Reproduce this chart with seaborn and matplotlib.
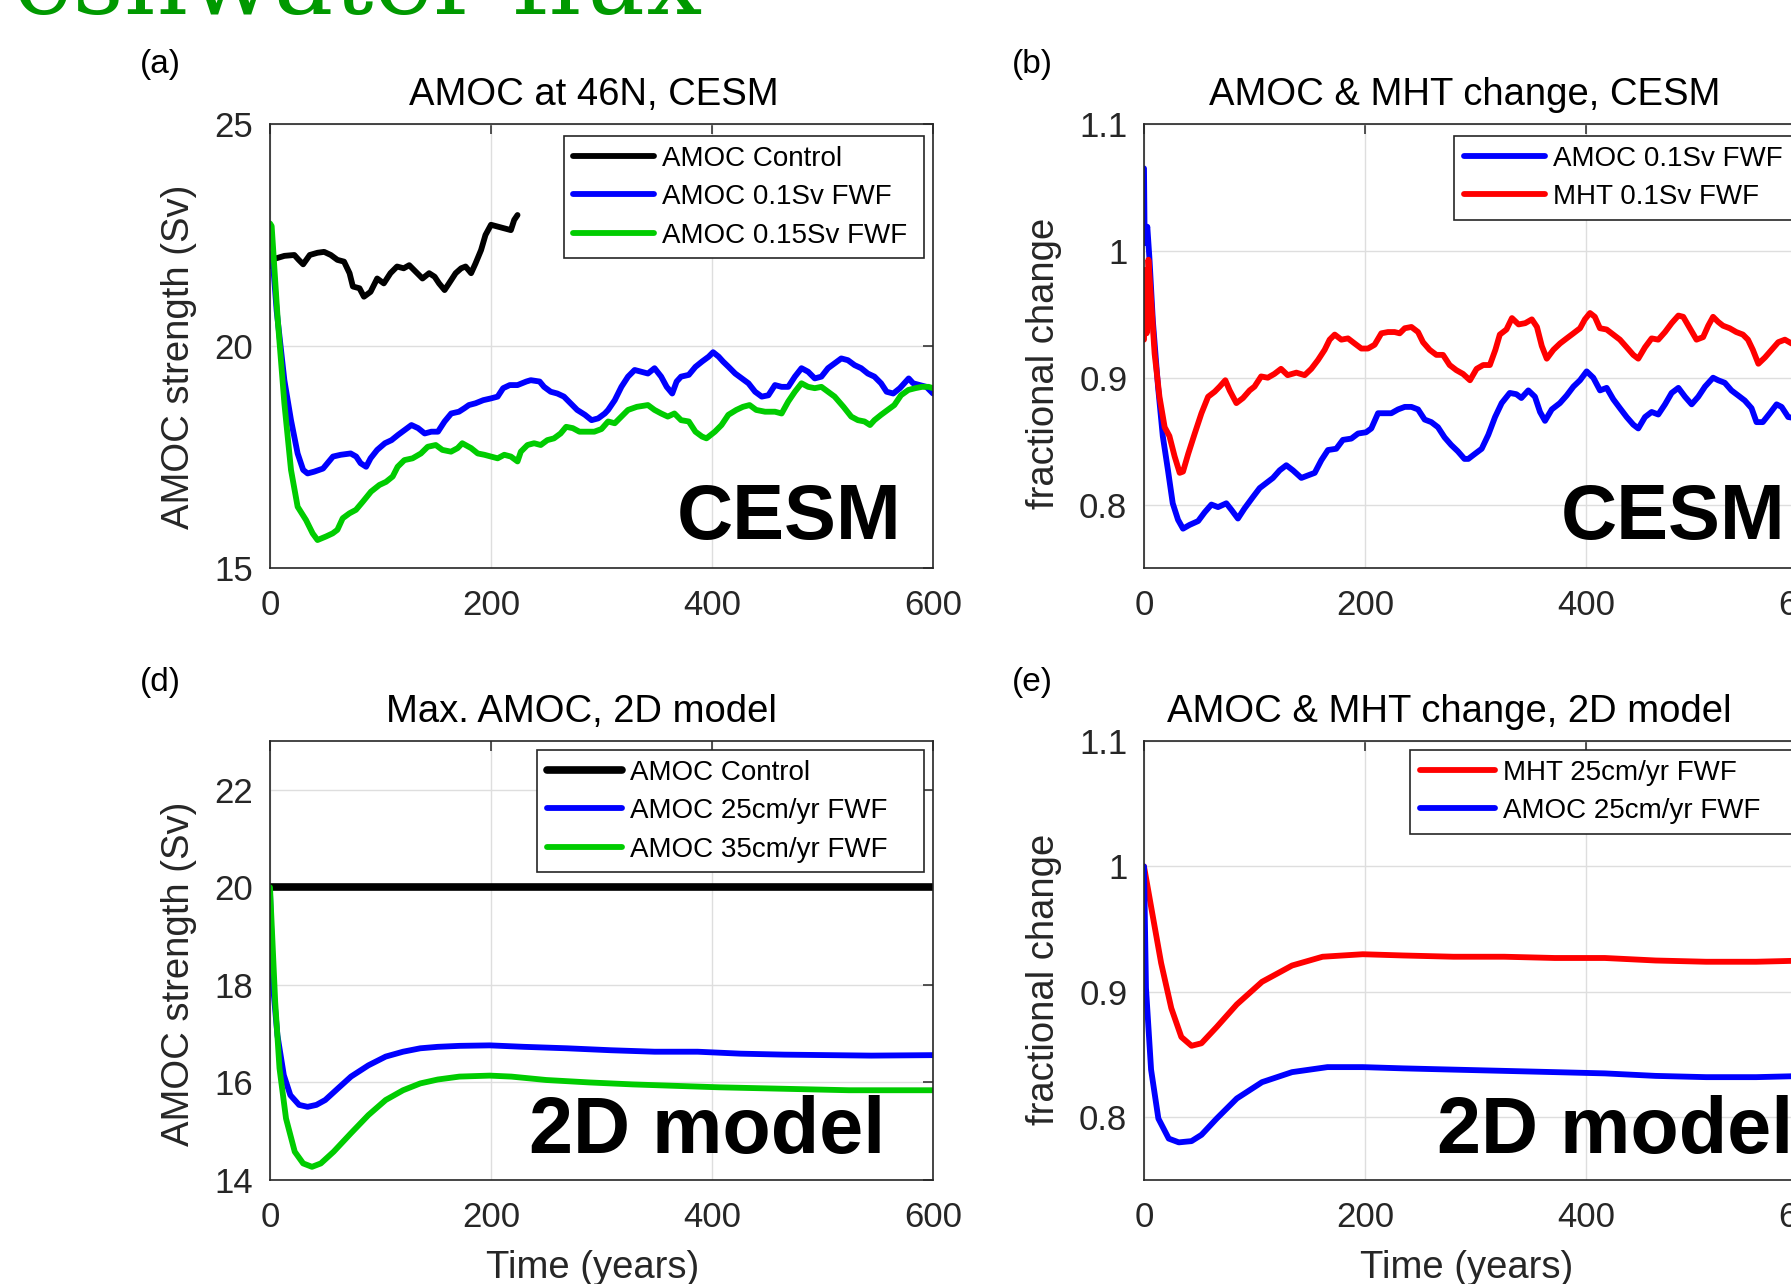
import numpy as np
import pandas as pd
import matplotlib
matplotlib.use("Agg")
import matplotlib.pyplot as plt
import seaborn as sns

# ---------------- data ----------------
# Panel (a): AMOC at 46N, CESM  (year, Sv)
A_control = [(2, 21.95), (5, 21.97), (13, 22.03), (22, 22.05), (26, 21.94), (30, 21.84), (36, 22.05),
             (43, 22.10), (49, 22.12), (55, 22.05), (61, 21.94), (67, 21.90), (72, 21.64), (75, 21.34),
             (81, 21.30), (85, 21.11), (91, 21.22), (97, 21.52), (103, 21.41), (109, 21.64), (115, 21.79),
             (121, 21.75), (126, 21.82), (132, 21.67), (138, 21.52), (144, 21.64), (149, 21.56), (153, 21.41),
             (158, 21.26), (162, 21.41), (168, 21.64), (173, 21.75), (177, 21.79), (182, 21.64), (186, 21.86),
             (191, 22.16), (195, 22.50), (200, 22.73), (206, 22.69), (212, 22.65), (218, 22.61), (221, 22.84),
             (224, 22.95)]
A_fwf01 = [(0, 21.8), (2, 22.1), (6, 20.8), (13, 19.23), (19, 18.33), (25, 17.58), (30, 17.21), (34, 17.13),
           (40, 17.17), (48, 17.24), (52, 17.36), (57, 17.51), (64, 17.55), (73, 17.58), (78, 17.51), (82, 17.36),
           (87, 17.28), (91, 17.47), (97, 17.66), (104, 17.81), (110, 17.88), (116, 18.00), (122, 18.11),
           (128, 18.22), (134, 18.15), (140, 18.03), (146, 18.07), (152, 18.07), (158, 18.30), (164, 18.48),
           (171, 18.52), (176, 18.60), (180, 18.67), (186, 18.71), (193, 18.78), (200, 18.82), (206, 18.86),
           (211, 19.05), (217, 19.12), (224, 19.12), (232, 19.20), (236, 19.23), (244, 19.20), (248, 19.08),
           (254, 18.97), (260, 18.93), (266, 18.86), (272, 18.71), (278, 18.56), (285, 18.45), (291, 18.33),
           (297, 18.37), (303, 18.48), (306, 18.56), (312, 18.78), (318, 19.08), (324, 19.31), (330, 19.46),
           (336, 19.42), (342, 19.38), (348, 19.50), (354, 19.31), (359, 19.08), (364, 18.93), (368, 19.20),
           (372, 19.31), (379, 19.35), (385, 19.53), (391, 19.65), (397, 19.76), (401, 19.86), (406, 19.76),
           (410, 19.65), (415, 19.53), (421, 19.38), (427, 19.27), (433, 19.16), (439, 18.97), (445, 18.86),
           (451, 18.89), (457, 19.12), (463, 19.08), (469, 19.08), (475, 19.31), (481, 19.50), (487, 19.42),
           (493, 19.27), (499, 19.31), (505, 19.50), (511, 19.61), (517, 19.72), (523, 19.68), (529, 19.57),
           (535, 19.50), (541, 19.38), (547, 19.31), (553, 19.16), (558, 18.97), (564, 18.93), (570, 19.05),
           (578, 19.27), (582, 19.16), (588, 19.12), (594, 19.08), (600, 18.93)]
A_fwf015 = [(0, 22.76), (1.5, 22.7), (7, 20.59), (13, 18.71), (19, 17.21), (25, 16.38), (32.6, 16.08),
            (38.6, 15.78), (43, 15.63), (50.7, 15.71), (56.7, 15.78), (61, 15.86), (65.8, 16.12), (71.8, 16.23),
            (77.8, 16.31), (83.9, 16.49), (91.4, 16.72), (99, 16.87), (105, 16.94), (111, 17.06), (115.5, 17.28),
            (121.6, 17.43), (129, 17.47), (136.6, 17.58), (142.7, 17.73), (150, 17.77), (156, 17.66),
            (163.8, 17.62), (169.8, 17.70), (174, 17.81), (182, 17.70), (188, 17.58), (194, 17.55), (200, 17.51),
            (206, 17.47), (212, 17.55), (218, 17.51), (224, 17.40), (227, 17.62), (233, 17.77), (239, 17.81),
            (245, 17.77), (251, 17.88), (257, 17.92), (263, 18.03), (268, 18.18), (274, 18.15), (280, 18.07),
            (286, 18.07), (293.5, 18.07), (300, 18.13), (306, 18.30), (312, 18.26), (318, 18.41), (324, 18.56),
            (332, 18.63), (342, 18.67), (348, 18.56), (354, 18.48), (360, 18.41), (366, 18.48), (372, 18.33),
            (379, 18.30), (385, 18.07), (391, 17.96), (395, 17.92), (402.6, 18.07), (408.6, 18.22),
            (414.8, 18.45), (422, 18.56), (428, 18.63), (434, 18.67), (440, 18.56), (448, 18.52), (457, 18.52),
            (463, 18.48), (469, 18.75), (475, 18.97), (481, 19.16), (487, 19.08), (493, 19.05), (499, 19.08),
            (505, 18.97), (511, 18.86), (519, 18.63), (526, 18.41), (532, 18.33), (538, 18.30), (543, 18.22),
            (547, 18.33), (553, 18.45), (559, 18.56), (565, 18.67), (571, 18.89), (577.7, 19.01), (584, 19.05),
            (590, 19.08), (596, 19.08), (600, 19.05)]

# Panel (b): AMOC & MHT change, CESM (year, fraction)
B_amoc = [(0, 1.065), (0.6, 1.006), (3, 1.019), (5, 0.993), (8, 0.945), (12.7, 0.893), (17, 0.854),
          (21.7, 0.827), (26, 0.801), (30.8, 0.788), (35.3, 0.781), (41.3, 0.784), (49, 0.787), (55, 0.794),
          (61, 0.800), (67, 0.798), (74.5, 0.801), (79, 0.796), (85, 0.789), (91, 0.797), (98.6, 0.806),
          (104.7, 0.813), (110.7, 0.817), (116.7, 0.821), (122.8, 0.827), (128.8, 0.831), (134.8, 0.827),
          (142.4, 0.821), (148.4, 0.823), (154.5, 0.825), (160.5, 0.835), (166.5, 0.843), (174, 0.844),
          (180, 0.851), (187.6, 0.852), (193.7, 0.856), (201, 0.857), (205.7, 0.860), (211.8, 0.872),
          (217.8, 0.872), (223.8, 0.872), (229.9, 0.875), (236, 0.877), (242, 0.877), (248, 0.875),
          (254, 0.867), (260, 0.865), (266, 0.861), (272, 0.853), (278, 0.847), (284, 0.842), (290, 0.836),
          (293.5, 0.836), (299.5, 0.840), (305.6, 0.844), (311.6, 0.855), (317.7, 0.869), (323.7, 0.880),
          (331, 0.888), (337, 0.887), (341.5, 0.884), (347.8, 0.890), (353.8, 0.885), (358.4, 0.873),
          (362.9, 0.866), (369, 0.875), (376.4, 0.880), (382.5, 0.886), (388.6, 0.893), (394.6, 0.898),
          (400.6, 0.905), (406.6, 0.900), (412.7, 0.890), (418.7, 0.892), (424.7, 0.883), (430.7, 0.876),
          (436.8, 0.869), (442.8, 0.863), (447.3, 0.860), (453.4, 0.869), (459.4, 0.873), (465.4, 0.871),
          (471.5, 0.879), (477.5, 0.888), (483.6, 0.892), (489.6, 0.885), (495.6, 0.879), (501.6, 0.885),
          (507.7, 0.893), (515, 0.900), (519.6, 0.898), (525.6, 0.896), (531.6, 0.890), (537.7, 0.886),
          (543.7, 0.882), (549.8, 0.876), (554.3, 0.865), (560, 0.865), (566.4, 0.872), (572.5, 0.879),
          (577, 0.877), (583, 0.869), (590, 0.868), (600, 0.872)]
B_mht = [(0, 0.930), (1, 0.985), (2.4, 0.935), (4, 0.993), (6, 0.967), (9.6, 0.919), (14, 0.885),
         (18.7, 0.861), (23, 0.854), (27.7, 0.838), (32.3, 0.825), (35.3, 0.826), (40, 0.840), (45.9, 0.856),
         (52, 0.872), (58, 0.885), (64, 0.889), (68.5, 0.893), (73.6, 0.898), (77.5, 0.890), (83.6, 0.880),
         (89.6, 0.884), (95.6, 0.890), (100, 0.893), (106, 0.901), (112, 0.900), (118, 0.903), (124, 0.907),
         (130, 0.902), (137.9, 0.904), (145.4, 0.902), (151.4, 0.907), (157.5, 0.914), (163.5, 0.922),
         (168, 0.930), (172.6, 0.934), (178.6, 0.930), (184.6, 0.931), (190.6, 0.927), (196.7, 0.923),
         (202.7, 0.923), (208.7, 0.926), (214.8, 0.935), (220.8, 0.936), (226.8, 0.936), (231.4, 0.935),
         (236, 0.939), (242, 0.940), (248, 0.936), (252.5, 0.928), (258.5, 0.922), (264.6, 0.918),
         (270.6, 0.918), (276.6, 0.910), (282.6, 0.906), (288.7, 0.903), (295, 0.898), (301, 0.907),
         (307, 0.910), (313, 0.910), (318, 0.922), (322, 0.934), (328, 0.938), (333, 0.947), (339, 0.942),
         (345, 0.943), (351, 0.946), (355.6, 0.940), (360, 0.925), (364.5, 0.915), (370.5, 0.922),
         (376.5, 0.927), (382.5, 0.931), (388.6, 0.935), (394.6, 0.939), (399, 0.946), (403.6, 0.951),
         (408, 0.948), (412.6, 0.939), (418.7, 0.938), (424.7, 0.934), (430.7, 0.930), (436.8, 0.924),
         (442.8, 0.918), (447.3, 0.915), (453.4, 0.924), (459.4, 0.931), (465.4, 0.930), (471.5, 0.936),
         (477.5, 0.943), (483.6, 0.949), (488, 0.948), (494, 0.939), (500, 0.930), (506, 0.932),
         (510.6, 0.941), (515, 0.948), (519.6, 0.944), (524, 0.941), (530, 0.939), (536, 0.936), (542, 0.934),
         (546.6, 0.930), (551, 0.922), (556, 0.911), (562, 0.916), (568, 0.922), (574, 0.928), (580, 0.930),
         (586, 0.927), (593, 0.926), (600, 0.929)]

# Panel (d): Max. AMOC, 2D model (year, Sv)
D_control = [(0, 20.0), (600, 20.0)]
D_fwf25 = [(0, 19.9), (2.7, 18.0), (6.7, 16.97), (12.5, 16.15), (18.4, 15.74), (26.3, 15.54), (34, 15.50),
           (42, 15.54), (50, 15.64), (61.6, 15.88), (73.3, 16.12), (89, 16.35), (104.7, 16.53), (120.4, 16.63),
           (136, 16.70), (151.8, 16.73), (171.4, 16.75), (198.8, 16.76), (230, 16.73), (269, 16.70),
           (308.6, 16.66), (348, 16.63), (387, 16.63), (426, 16.59), (465.5, 16.57), (504.7, 16.56),
           (544, 16.55), (600, 16.56)]
D_fwf35 = [(0, 20.0), (2, 19.0), (4.7, 17.65), (8.6, 16.29), (14.5, 15.26), (22.4, 14.58), (30, 14.34),
           (38, 14.27), (46, 14.34), (57.6, 14.58), (73.3, 14.96), (89, 15.33), (104.7, 15.64), (120.4, 15.84),
           (136, 15.98), (151.8, 16.06), (171.4, 16.12), (198.8, 16.14), (218.4, 16.12), (250, 16.05),
           (289, 16.00), (328, 15.96), (367, 15.93), (406.7, 15.90), (446, 15.88), (485, 15.86), (524, 15.84),
           (563.5, 15.84), (600, 15.84)]

# Panel (e): AMOC & MHT change, 2D model (year, fraction)
E_mht = [(0, 1.0), (6.4, 0.968), (15.5, 0.923), (24.7, 0.887), (33.8, 0.864), (43, 0.857), (52, 0.859),
         (65.8, 0.872), (84, 0.890), (106.8, 0.908), (134, 0.921), (161.6, 0.928), (198, 0.930),
         (234.7, 0.929), (280, 0.928), (326, 0.928), (371.7, 0.927), (417, 0.927), (463, 0.925),
         (508.7, 0.924), (554, 0.924), (600, 0.925)]
E_amoc = [(0, 1.0), (1.8, 0.903), (6.4, 0.838), (13, 0.799), (22.4, 0.783), (31.5, 0.780), (43, 0.781),
          (52, 0.786), (65.8, 0.799), (84, 0.815), (106.8, 0.828), (134, 0.836), (166, 0.840), (198, 0.840),
          (234.7, 0.839), (280, 0.838), (326, 0.837), (371.7, 0.836), (417, 0.835), (463, 0.833),
          (508.7, 0.832), (554, 0.832), (600, 0.833)]

XTICKS = [0, 200, 400, 600]
A_YTICKS = [15, 20, 25]
D_YTICKS = [14, 16, 18, 20, 22]
FRAC_YTICKS = [0.8, 0.9, 1.0, 1.1]
FRAC_YLABELS = ["0.8", "0.9", "1", "1.1"]

# ---------------- style ----------------
sns.set_theme(style="whitegrid")
plt.rcParams["font.family"] = ["Liberation Sans", "DejaVu Sans"]

W, H = 1791, 1284
fig = plt.figure(figsize=(W / 100, H / 100), dpi=100)
fig.patch.set_facecolor("white")

TXT = "#262626"
BLUE, RED, GREEN, BLACK = "#0000ff", "#ff0000", "#00cc00", "#000000"


def add_ax(left, top, w, h):
    return fig.add_axes([left / W, 1 - (top + h) / H, w / W, h / H])


def frame(pairs):
    return pd.DataFrame(pairs, columns=["year", "value"])


def style(ax):
    ax.set_facecolor("white")
    ax.grid(True, color="#dedede", linewidth=1.0)
    ax.set_axisbelow(True)
    for s in ax.spines.values():
        s.set_visible(True)
        s.set_color(TXT)
        s.set_linewidth(1.2)
    ax.tick_params(direction="in", top=True, right=True, length=7, width=1.1,
                   colors=TXT, labelsize=25)
    ax.tick_params(axis="y", pad=12)
    ax.tick_params(axis="x", pad=15)
    ax.set_xlim(0, 600)
    ax.set_xticks(XTICKS)


def draw(ax, pairs, color, label, lw=4.2):
    d = frame(pairs)
    sns.lineplot(data=d, x="year", y="value", ax=ax, color=color, linewidth=lw,
                 label=label, sort=False, estimator=None)


def legend(ax, x0, top, hl=2.9):
    leg = ax.legend(loc="upper left", bbox_to_anchor=(x0, 0, 0.986 - x0, top), mode="expand",
                    fontsize=20, frameon=True, fancybox=False,
                    edgecolor=TXT, framealpha=1, handlelength=hl, handletextpad=0.3,
                    labelspacing=0.45, borderpad=0.35, borderaxespad=0.0)
    leg.get_frame().set_linewidth(1.2)
    for t in leg.get_texts():
        t.set_color("black")


def ylab(ax, text, x, y):
    ax.set_ylabel(text, fontsize=27.5, color=TXT, va="center")
    ax.yaxis.set_label_coords(x, y)


axA = add_ax(270, 124, 663, 444)
axB = add_ax(1144, 124, 663, 444)
axD = add_ax(270, 741, 663, 439)
axE = add_ax(1144, 741, 663, 439)

# (a)
draw(axA, A_control, BLACK, "AMOC Control")
draw(axA, A_fwf01, BLUE, "AMOC 0.1Sv FWF")
draw(axA, A_fwf015, GREEN, "AMOC 0.15Sv FWF")
style(axA)
axA.set_ylim(15, 25)
axA.set_yticks(A_YTICKS)
axA.set_xlabel("")
ylab(axA, "AMOC strength (Sv)", -0.137, 0.475)
legend(axA, 0.443, 0.973)

# (b)
draw(axB, B_amoc, BLUE, "AMOC 0.1Sv FWF")
draw(axB, B_mht, RED, "MHT 0.1Sv FWF")
style(axB)
axB.set_ylim(0.75, 1.1)
axB.set_yticks(FRAC_YTICKS, FRAC_YLABELS)
axB.set_xlabel("")
ylab(axB, "fractional change", -0.151, 0.46)
legend(axB, 0.468, 0.973)

# (d)
draw(axD, D_control, BLACK, "AMOC Control", lw=5.5)
draw(axD, D_fwf25, BLUE, "AMOC 25cm/yr FWF")
draw(axD, D_fwf35, GREEN, "AMOC 35cm/yr FWF")
style(axD)
axD.set_ylim(14, 23)
axD.set_yticks(D_YTICKS)
ylab(axD, "AMOC strength (Sv)", -0.137, 0.469)
axD.set_xlabel("Time (years)", fontsize=27.5, color=TXT, va="center")
axD.xaxis.set_label_coords(0.487, -0.2)
legend(axD, 0.403, 0.9795, hl=2.7)

# (e)
draw(axE, E_mht, RED, "MHT 25cm/yr FWF")
draw(axE, E_amoc, BLUE, "AMOC 25cm/yr FWF")
style(axE)
axE.set_ylim(0.75, 1.1)
axE.set_yticks(FRAC_YTICKS, FRAC_YLABELS)
ylab(axE, "fractional change", -0.151, 0.458)
axE.set_xlabel("Time (years)", fontsize=27.5, color=TXT, va="center")
axE.xaxis.set_label_coords(0.486, -0.2)
legend(axE, 0.401, 0.9795, hl=2.7)

# titles
tkw = dict(ha="center", va="center", fontsize=27.5, color="black")
axA.text(0.489, 1.066, "AMOC at 46N, CESM", transform=axA.transAxes, **tkw)
axB.text(0.484, 1.066, "AMOC & MHT change, CESM", transform=axB.transAxes, **tkw)
axD.text(0.470, 1.067, "Max. AMOC, 2D model", transform=axD.transAxes, **tkw)
axE.text(0.460, 1.067, "AMOC & MHT change, 2D model", transform=axE.transAxes, **tkw)

# big model labels
big = dict(fontsize=56, fontweight="bold", color="black", ha="right", va="baseline")
axA.text(0.953, 0.065, "CESM", transform=axA.transAxes, **big)
axB.text(0.968, 0.065, "CESM", transform=axB.transAxes, **big)
big2 = dict(big)
big2["fontsize"] = 57
axD.text(0.928, 0.0615, "2D model", transform=axD.transAxes, **big2)
axE.text(0.979, 0.0615, "2D model", transform=axE.transAxes, **big2)

# panel letters
for lab, (px, py) in {"(a)": (160, 64), "(b)": (1032, 64), "(d)": (160, 682), "(e)": (1032, 682)}.items():
    fig.text(px / W, 1 - py / H, lab, ha="center", va="center", fontsize=24, color="black")

# cut-off green heading at the very top
fig.text(702 / W, 1 - 14 / H, "Freshwater flux", ha="right", va="baseline", fontsize=72,
         color="#009900", family=["DejaVu Serif"])

fig.savefig("out.png", dpi=100, facecolor="white")
